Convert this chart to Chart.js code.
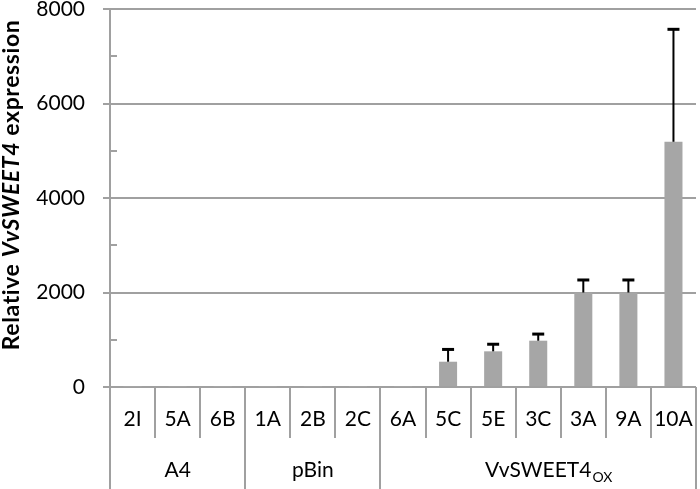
<!DOCTYPE html>
<html>
<head>
<meta charset="utf-8">
<script src="https://cdn.jsdelivr.net/npm/chart.js@4.4.1/dist/chart.umd.min.js"></script>
<style>
  html, body { margin: 0; padding: 0; background: #fff; }
  #wrap { width: 700px; height: 489px; }
</style>
</head>
<body>
<div id="wrap"><canvas id="chart" width="700" height="489"></canvas></div>
<script>
const lines = ["2I", "5A", "6B", "1A", "2B", "2C", "6A", "5C", "5E", "3C", "3A", "9A", "10A"];
const expression = [1, 1, 1, 1, 1, 1, 2, 535, 755, 980, 2000, 2000, 5190];
const errorUp = [0, 0, 0, 0, 0, 0, 0, 260, 150, 140, 265, 265, 2380];
const groupNames = ["A4", "pBin", "VvSWEET4"];
const groupSub = ["", "", "OX"];
const groupSizes = [3, 3, 7];
const yTicks = [0, 2000, 4000, 6000, 8000];

const gridGray = "#a0a0a0";
const fontFam = "Lato, 'Open Sans', sans-serif";

// error bars, minor ticks, lower axis dividers, group labels, y title
const extras = {
  id: "extras",
  afterDatasetsDraw(chart) {
    const ctx = chart.ctx;
    const x = chart.scales.x, y = chart.scales.y;
    const area = chart.chartArea;
    const meta = chart.getDatasetMeta(0);
    ctx.save();

    // error bars (upper only)
    ctx.strokeStyle = "#000";
    meta.data.forEach((bar, i) => {
      if (!errorUp[i]) return;
      const top = y.getPixelForValue(expression[i] + errorUp[i]);
      ctx.lineWidth = 2;
      ctx.beginPath();
      ctx.moveTo(bar.x, bar.y);
      ctx.lineTo(bar.x, top);
      ctx.stroke();
      ctx.lineWidth = 3;
      ctx.beginPath();
      ctx.moveTo(bar.x - 6, top);
      ctx.lineTo(bar.x + 6, top);
      ctx.stroke();
    });

    // minor ticks inside the axis
    ctx.strokeStyle = gridGray;
    ctx.lineWidth = 2;
    for (let v = 1000; v < 8000; v += 2000) {
      const py = Math.round(y.getPixelForValue(v));
      ctx.beginPath();
      ctx.moveTo(area.left, py);
      ctx.lineTo(area.left + 7, py);
      ctx.stroke();
    }

    // axis line continued below zero
    ctx.beginPath();
    ctx.moveTo(area.left, area.bottom);
    ctx.lineTo(area.left, chart.height);
    ctx.stroke();

    // category dividers and group dividers
    const half = (x.getPixelForValue(1) - x.getPixelForValue(0)) / 2;
    let groupEnds = [];
    let acc = 0;
    groupSizes.forEach(n => { acc += n; groupEnds.push(acc); });
    for (let i = 1; i <= lines.length; i++) {
      const px = Math.round(x.getPixelForValue(i - 1) + half);
      const full = groupEnds.includes(i);
      ctx.beginPath();
      ctx.moveTo(px, area.bottom);
      ctx.lineTo(px, full ? chart.height : area.bottom + 51);
      ctx.stroke();
    }

    // group labels (main text centred, subscript hangs after it)
    ctx.fillStyle = "#000";
    ctx.textBaseline = "middle";
    let start = 0;
    groupSizes.forEach((n, g) => {
      const left = x.getPixelForValue(start) - half;
      const right = x.getPixelForValue(start + n - 1) + half;
      const cx = (left + right) / 2;
      const cy = 470;
      ctx.font = "21px " + fontFam;
      const w1 = ctx.measureText(groupNames[g]).width;
      ctx.textAlign = "left";
      ctx.fillText(groupNames[g], cx - w1 / 2, cy);
      if (groupSub[g]) {
        ctx.font = "14px " + fontFam;
        ctx.fillText(groupSub[g], cx + w1 / 2 + 1, cy + 7);
      }
      start += n;
    });

    // y axis title with italic gene name
    const parts = [["Relative ", "bold"], ["VvSWEET4", "italic bold"], [" expression", "bold"]];
    ctx.textBaseline = "alphabetic";
    ctx.letterSpacing = "0.6px";
    ctx.translate(19, 185);
    ctx.rotate(-Math.PI / 2);
    let total = 0;
    parts.forEach(p => { ctx.font = p[1] + " 23px " + fontFam; total += ctx.measureText(p[0]).width; });
    let tx = -total / 2;
    parts.forEach(p => {
      ctx.font = p[1] + " 23px " + fontFam;
      ctx.fillText(p[0], tx, 0);
      tx += ctx.measureText(p[0]).width;
    });
    ctx.restore();
  }
};

new Chart(document.getElementById("chart"), {
  type: "bar",
  data: {
    labels: lines,
    datasets: [{
      data: expression,
      backgroundColor: "#a6a6a6",
      barPercentage: 0.4,
      categoryPercentage: 1.0
    }]
  },
  options: {
    responsive: false,
    animation: false,
    layout: { padding: { top: 9, right: 4, left: 0, bottom: 0 } },
    plugins: { legend: { display: false }, tooltip: { enabled: false } },
    scales: {
      x: {
        grid: { display: false },
        border: { display: false },
        ticks: { color: "#000", font: { family: fontFam, size: 21 }, padding: 12, maxRotation: 0, autoSkip: false },
        afterFit: s => { s.height = 102; s.paddingLeft = 0; s.paddingRight = 0; }
      },
      y: {
        min: 0,
        max: 8000,
        afterBuildTicks: s => { s.ticks = yTicks.map(v => ({ value: v })); },
        grid: { color: gridGray, lineWidth: 2, tickLength: 7 },
        border: { color: gridGray, width: 2 },
        ticks: { color: "#000", font: { family: fontFam, size: 21 }, padding: 18, callback: v => String(v) },
        afterFit: s => { s.width = 110; s.paddingTop = 0; s.paddingBottom = 0; }
      }
    }
  },
  plugins: [extras]
});
</script>
</body>
</html>
